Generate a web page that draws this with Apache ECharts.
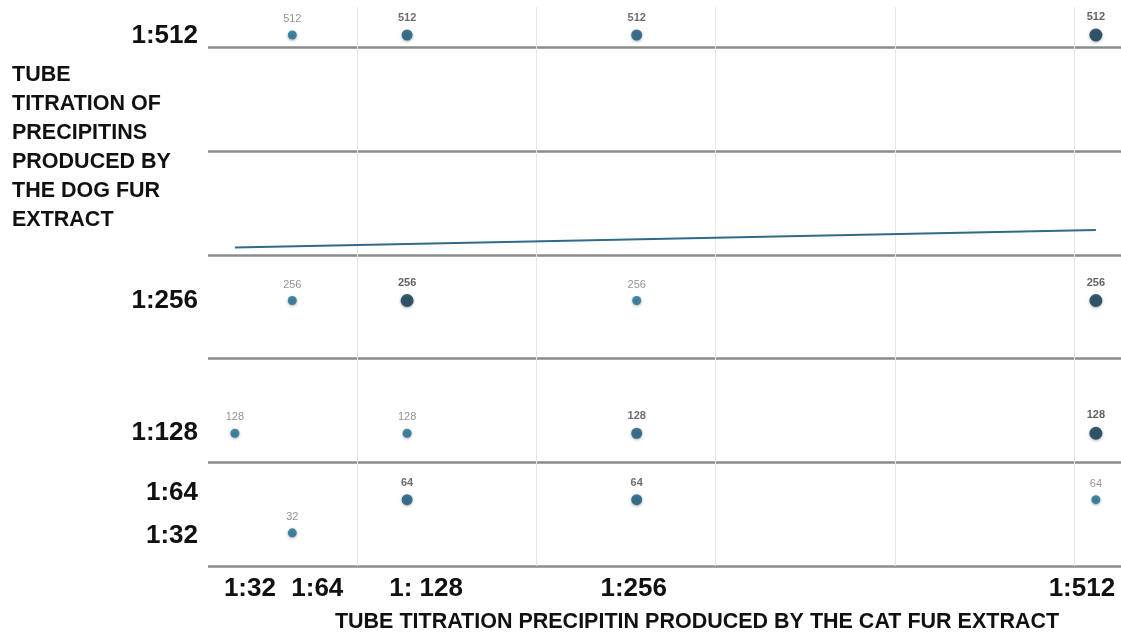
<!DOCTYPE html>
<html>
<head>
<meta charset="utf-8">
<script src="https://cdn.jsdelivr.net/npm/echarts@6/dist/echarts.min.js"></script>
<style>html,body{margin:0;padding:0;background:#fff}#c{width:1121px;height:637px}</style>
</head>
<body>
<div id="c"></div>
<script>
// ---- data ----
const xTickValues = [32, 64, 128, 256, 512];
const xTickLabels = ['1:32', '1:64', '1: 128', '1:256', '1:512'];
const xGridValues = [100, 200, 300, 400, 500];
const yTickValues = [512, 256, 128, 64, 32];
const yTickLabels = ['1:512', '1:256', '1:128', '1:64', '1:32'];
const catTiter = [64, 128, 256, 512, 64, 128, 256, 512, 32, 128, 256, 512, 128, 256, 512, 64];
const dogTiter = [512, 512, 512, 512, 256, 256, 256, 256, 128, 128, 128, 128, 64, 64, 64, 32];
const pointWeight = [1, 2, 2, 3, 1, 3, 1, 3, 1, 1, 2, 3, 2, 2, 1, 1];
const trendX = [32, 512];
const trendY = [307, 324];
const xTitle = 'TUBE TITRATION PRECIPITIN PRODUCED BY THE CAT FUR EXTRACT';
const yTitle = 'TUBE\nTITRATION OF\nPRECIPITINS\nPRODUCED BY\nTHE DOG FUR\nEXTRACT';

// ---- styling helpers ----
const xShift = {32: 15, 64: 25, 128: 19, 256: -3, 512: -14};
const yShift = {512: 1, 256: 0, 128: 0, 64: -7, 32: 3};
const FONT = '"Liberation Sans", Arial, sans-serif';
const sizeByWeight = {1: 9, 2: 11, 3: 13};
const colorByWeight = {1: '#1f6f92', 2: '#175a7a', 3: '#0e3a52'};
const labelColorByWeight = {1: '#777', 2: '#4a4a4a', 3: '#3a3a3a'};

const xRich = {}, yRich = {};
xTickValues.forEach(v => {
  const d = xShift[v] || 0;
  xRich['x' + v] = {fontSize: 26, fontWeight: 'bold', color: '#111', fontFamily: FONT,
    padding: d > 0 ? [0, 0, 0, 2 * d] : [0, -2 * d, 0, 0]};
});
yTickValues.forEach(v => {
  const d = yShift[v] || 0;
  yRich['y' + v] = {fontSize: 26, fontWeight: 'bold', color: '#111', fontFamily: FONT,
    padding: d < 0 ? [0, 0, -2 * d, 0] : [2 * d, 0, 0, 0]};
});

const points = catTiter.map((x, i) => ({
  value: [x, dogTiter[i]],
  symbolSize: sizeByWeight[pointWeight[i]],
  itemStyle: {color: colorByWeight[pointWeight[i]]},
  label: {color: labelColorByWeight[pointWeight[i]], fontWeight: pointWeight[i] > 1 ? 'bold' : 'normal'}
}));

const chart = echarts.init(document.getElementById('c'), null, {renderer: 'canvas'});
chart.setOption({
  animation: false,
  backgroundColor: '#ffffff',
  grid: {left: 208, right: 0, top: 7, bottom: 71, containLabel: false},
  xAxis: {
    type: 'value', min: 17, max: 526,
    axisLine: {show: false},
    axisTick: {show: false, customValues: xGridValues},
    splitLine: {show: true, showMinLine: true, showMaxLine: true, lineStyle: {color: '#e6e6e6', width: 1}},
    axisLabel: {
      customValues: xTickValues, margin: 10,
      formatter: v => '{x' + v + '|' + xTickLabels[xTickValues.indexOf(v)] + '}',
      rich: xRich
    }
  },
  yAxis: {
    type: 'value', min: 0, max: 539, interval: 100,
    axisLine: {show: false}, axisTick: {show: false},
    splitLine: {show: true, showMinLine: true, showMaxLine: false, lineStyle: {color: '#8c8c8c', width: 2.5}},
    axisLabel: {
      customValues: yTickValues, margin: 10,
      formatter: v => '{y' + v + '|' + yTickLabels[yTickValues.indexOf(v)] + '}',
      rich: yRich
    }
  },
  series: [
    {
      type: 'line', data: trendX.map((x, i) => [x, trendY[i]]),
      symbol: 'none', lineStyle: {color: '#2f6a88', width: 2}, z: 2
    },
    {
      type: 'scatter', data: points, z: 3,
      itemStyle: {shadowBlur: 3, shadowColor: 'rgba(0,0,0,0.4)', shadowOffsetY: 1},
      label: {show: true, position: 'top', distance: 6, fontSize: 11, fontFamily: FONT,
        formatter: p => String(p.value[1])}
    }
  ],
  graphic: [
    {type: 'text', left: 12, top: 61, style: {text: yTitle, font: 'bold 21.5px ' + FONT, lineHeight: 29, fill: '#111'}},
    {type: 'text', x: 697, y: 622, style: {text: xTitle, font: 'bold 21.5px ' + FONT, align: 'center', verticalAlign: 'middle', fill: '#111'}}
  ]
});
</script>
</body>
</html>
